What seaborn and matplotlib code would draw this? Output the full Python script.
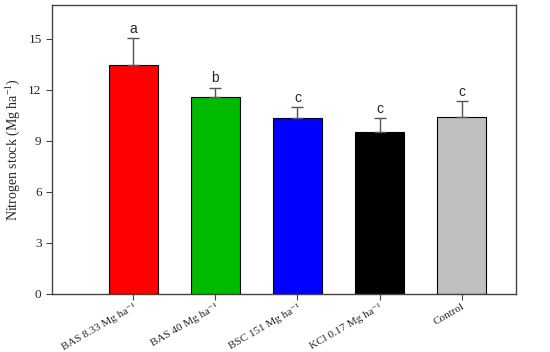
import matplotlib
matplotlib.use('Agg')
import matplotlib.pyplot as plt
import seaborn as sns
import pandas as pd

# treatments and values
treatments = ['BAS 8.33 Mg ha⁻¹', 'BAS 40 Mg ha⁻¹', 'BSC 151 Mg ha⁻¹',
              'KCl 0.17 Mg ha⁻¹', 'Control']
stock = [13.45, 11.6, 10.32, 9.52, 10.4]
error = [1.6, 0.52, 0.66, 0.8, 0.94]
letters = ['a', 'b', 'c', 'c', 'c']
colors = ['#ff0000', '#00bb00', '#0000ff', '#000000', '#c0c0c0']

sns.set_style('ticks')
plt.rcParams['font.family'] = ['Liberation Serif', 'DejaVu Serif']
plt.rcParams['mathtext.fontset'] = 'custom'
plt.rcParams['mathtext.rm'] = 'Liberation Serif'
plt.rcParams['mathtext.it'] = 'Liberation Serif:italic'

data = pd.DataFrame({'Treatment': treatments, 'Stock': stock})

fig = plt.figure(figsize=(5.5, 3.52), dpi=100)
ax = fig.add_axes([0.0945, 0.165, 0.8435, 0.821])
sns.barplot(x='Treatment', y='Stock', hue='Treatment', data=data, palette=colors,
            saturation=1, width=0.6, edgecolor='black', linewidth=0.8,
            legend=False, ax=ax)

# upper error bars only
pos = list(range(len(treatments)))
ax.errorbar(pos, stock, yerr=[[0] * len(error), error], fmt='none',
            ecolor='#555555', elinewidth=1, capsize=4, capthick=1)
for x, y, e, t in zip(pos, stock, error, letters):
    ax.text(x, y + e + 0.15, t, ha='center', va='bottom', fontsize=10,
            family='Liberation Sans')

ax.set_xlim(-0.99, 4.66)
ax.set_ylim(0, 17)
ax.set_yticks([0, 3, 6, 9, 12, 15])
ax.set_xlabel('')
ax.set_ylabel('Nitrogen stock (Mg ha$^{-1}$)', fontsize=10)
ax.tick_params(axis='y', labelsize=9.5, direction='out', length=4, color='#444444')
ax.tick_params(axis='x', labelsize=8, direction='out', length=4, pad=2, color='#444444')
plt.setp(ax.get_xticklabels(), rotation=30, ha='right', rotation_mode='anchor')
for s in ax.spines.values():
    s.set_visible(True)
    s.set_color('#444444')
    s.set_linewidth(1)

fig.savefig('out.png', dpi=100)
